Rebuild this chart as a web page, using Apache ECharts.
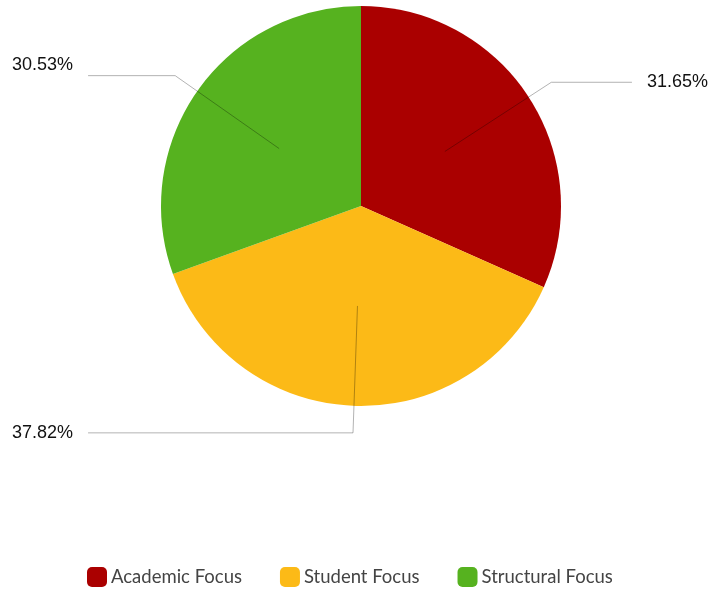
<!DOCTYPE html>
<html>
<head>
<meta charset="utf-8">
<script src="https://cdn.jsdelivr.net/npm/echarts@6/dist/echarts.min.js"></script>
<style>
  html, body { margin: 0; padding: 0; background: #ffffff; }
  #chart { width: 712px; height: 592px; }
</style>
</head>
<body>
<div id="chart"></div>
<script>
// Share of focus areas (percent)
const categories = ['Academic Focus', 'Student Focus', 'Structural Focus'];
const shares = [31.65, 37.82, 30.53];
const colors = ['#AA0000', '#FCBA17', '#56B21F'];

const chart = echarts.init(document.getElementById('chart'), null, { renderer: 'canvas' });

const sliceData = categories.map((name, i) => ({
  name: name,
  value: shares[i],
  itemStyle: { color: colors[i] }
}));

// Inner ghost ring: carries the labels so the leader lines start mid-radius
const labelData = categories.map((name, i) => {
  const item = { name: name, value: shares[i] };
  if (i === 0) item.label = { edgeDistance: 4 };
  if (i === 2) item.label = { formatter: p => '{v|' + p.value.toFixed(2) + '%}\n{v| }' };
  return item;
});

chart.setOption({
  animation: false,
  color: colors,
  legend: {
    bottom: 0,
    left: 82,
    icon: 'roundRect',
    itemWidth: 20,
    itemHeight: 20,
    itemGap: 38,
    textStyle: { fontFamily: 'Lato', fontSize: 18.5, color: '#444444', padding: [0, 0, 0, -1] },
    data: categories
  },
  series: [
    {
      type: 'pie',
      z: 1,
      center: [361, 206],
      radius: [0, 200],
      startAngle: 90,
      clockwise: true,
      silent: true,
      label: { show: false },
      labelLine: { show: false },
      data: sliceData
    },
    {
      type: 'pie',
      z: 5,
      center: [361, 206],
      radius: [0, 100],
      startAngle: 90,
      clockwise: true,
      silent: true,
      itemStyle: { color: 'rgba(0,0,0,0)' },
      label: {
        show: true,
        position: 'outside',
        alignTo: 'edge',
        edgeDistance: 12,
        distanceToLabelLine: 15,
        formatter: p => p.value.toFixed(2) + '%',
        fontFamily: 'Liberation Sans',
        fontSize: 18,
        color: '#111111',
        rich: {
          v: { fontFamily: 'Liberation Sans', fontSize: 18, color: '#111111', lineHeight: 22 }
        }
      },
      labelLine: {
        show: true,
        length: 127,
        length2: 20,
        lineStyle: { color: 'rgba(0,0,0,0.3)', width: 1 }
      },
      data: labelData
    }
  ]
});
</script>
</body>
</html>
